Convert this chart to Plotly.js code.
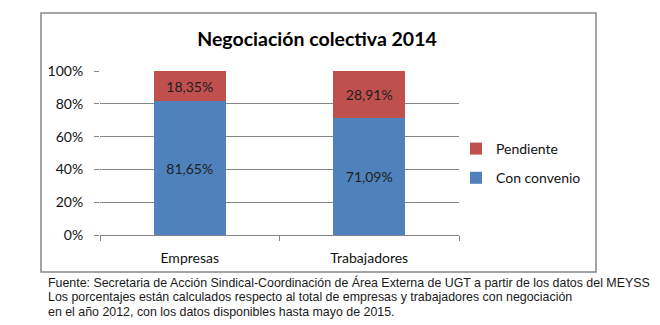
<!DOCTYPE html>
<html>
<head>
<meta charset="utf-8">
<script src="https://cdn.plot.ly/plotly-3.0.1.min.js"></script>
<style>html,body{margin:0;padding:0;background:#fff;}#chart{width:660px;height:325px;}</style>
</head>
<body>
<div id="chart"></div>
<script>
var categories = ["Empresas", "Trabajadores"];
var conConvenio = [81.65, 71.09];
var pendiente = [18.35, 28.91];
var seriesNames = ["Con convenio", "Pendiente"];
var yTickVals = [0, 20, 40, 60, 80, 100];
var yTickText = ["0%", "20%", "40%", "60%", "80%", "100%"];
var chartTitle = "Negociación colectiva 2014";
var footLines = [
  "Fuente: Secretaria de Acción Sindical-Coordinación de Área Externa de UGT a partir de los datos del MEYSS",
  "Los porcentajes están calculados respecto al total de empresas y trabajadores con negociación",
  "en el año 2012, con los datos disponibles hasta mayo de 2015."
];

var W = 660, H = 325;
var L = 100, R = 201, T = 71, B = 90;
var pw = W - L - R, ph = H - T - B;
function px(x){ return (x - L) / pw; }
function py(y){ return (H - B - y) / ph; }

var FONT = "Lato, 'Open Sans', sans-serif";
var labelFont = {family: FONT, size: 14, color: "#1e1e1e"};

var traces = [
  {type: "bar", name: seriesNames[0], x: categories, y: conConvenio,
   marker: {color: "#4F81BD"}, legendgroup: "a", legendrank: 2,
   texttemplate: "%{y:.2f}%", textposition: "inside", insidetextanchor: "middle",
   textfont: labelFont, hoverinfo: "skip"},
  {type: "bar", name: seriesNames[1], x: categories, y: pendiente,
   marker: {color: "#C0504D"}, legendgroup: "b", legendrank: 1,
   texttemplate: "%{y:.2f}%", textposition: "inside", insidetextanchor: "middle",
   textfont: labelFont, hoverinfo: "skip"}
];

var annotations = footLines.map(function(t, i){
  return {text: t, xref: "paper", yref: "paper", x: px(46), y: py(282 + i*15.2),
          xanchor: "left", yanchor: "middle", showarrow: false, align: "left",
          font: {family: "'Liberation Sans', Arial, sans-serif", size: 12.4, color: "#1a1a1a"}};
});

var layout = {
  width: W, height: H,
  margin: {l: L, r: R, t: T, b: B, pad: 0},
  paper_bgcolor: "#fff", plot_bgcolor: "#fff",
  separators: ",.",
  barmode: "stack", bargap: 0.6,
  title: {text: "<b>" + chartTitle + "</b>", x: 317/W, xanchor: "center",
          y: 1 - 39/H, yanchor: "middle", yref: "container",
          font: {family: FONT, size: 19.5, color: "#000"}},
  xaxis: {type: "category", showgrid: false, showline: true, linecolor: "#868686", linewidth: 1,
          ticks: "outside", tickson: "boundaries", ticklen: 5, tickcolor: "#868686",
          ticklabelstandoff: 10,
          tickfont: {family: FONT, size: 14, color: "#111"}},
  yaxis: {range: [0, 100], tickmode: "array", tickvals: yTickVals, ticktext: yTickText,
          showgrid: true, gridcolor: "#868686", gridwidth: 1, zeroline: false, showline: false,
          ticks: "outside", ticklen: 5, tickcolor: "#868686", ticklabelstandoff: 8,
          tickfont: {family: FONT, size: 14, color: "#111"}},
  showlegend: true,
  legend: {x: px(456), xanchor: "left", y: py(133), yanchor: "top",
           traceorder: "grouped", tracegroupgap: 8,
           bgcolor: "rgba(0,0,0,0)", borderwidth: 0,
           font: {family: FONT, size: 14, color: "#111"}},
  shapes: [{type: "rect", xref: "paper", yref: "paper",
            x0: px(41), x1: px(596), y0: py(272), y1: py(13),
            line: {color: "#868686", width: 1.5}, fillcolor: "rgba(0,0,0,0)", layer: "below"}],
  annotations: annotations
};

Plotly.newPlot("chart", traces, layout, {staticPlot: true, displayModeBar: false});
</script>
</body>
</html>
